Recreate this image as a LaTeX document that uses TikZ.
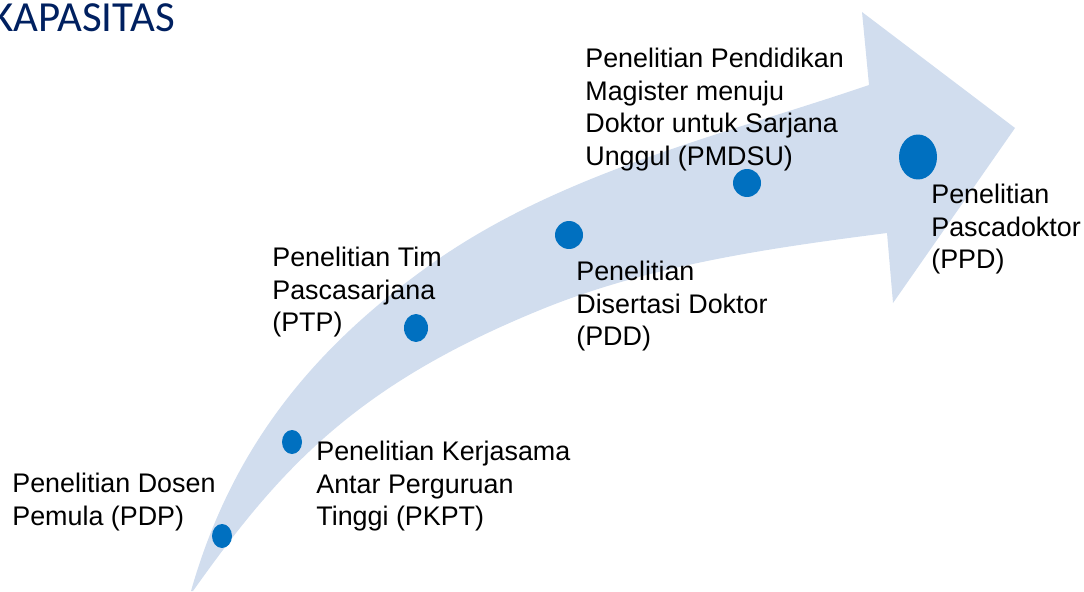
\documentclass[tikz,border=0pt]{standalone}
\usepackage{fontspec}
\setmainfont{Liberation Sans}
\newfontfamily\titlefont{Carlito}
\usetikzlibrary{shapes.geometric}
\definecolor{kapasitasnavy}{RGB}{0,32,96}
\definecolor{arrowblue}{RGB}{209,221,238}
\definecolor{dotblue}{RGB}{0,112,192}

\begin{document}
\begin{tikzpicture}[x=0.02cm,y=-0.02cm]

%
% Styles
%
\tikzstyle{milestone} = [ellipse,fill=dotblue,inner sep=0]
\tikzstyle{stage}     = [anchor=north west,inner sep=0,align=left,font=\fontsize{15.3}{18.5}\selectfont]
\tikzstyle{heading}   = [anchor=base east,inner sep=0,color=kapasitasnavy,font=\titlefont\fontsize{24.4}{28}\selectfont]

\useasboundingbox (0,0) rectangle (1084,591);

% curved arrow
\fill[arrowblue] (191,591)
  .. controls (232,447) and (314,346) .. (437,260)
  .. controls (564,172) and (722,135) .. (869,85)
  -- (862,12) -- (1015,128) -- (893,303) -- (887,233)
  .. controls (770,248) and (650,265) .. (540,310)
  .. controls (354,386) and (279,470) .. (193,591)
  -- cycle;

\node[heading] (title) at (175,32) {KAPASITAS};

\node[milestone,minimum width=0.40cm,minimum height=0.48cm] (pdp)   at (222,536) {};
\node[milestone,minimum width=0.40cm,minimum height=0.48cm] (pkpt)  at (292,442) {};
\node[milestone,minimum width=0.48cm,minimum height=0.56cm] (ptp)   at (416,328) {};
\node[milestone,minimum width=0.56cm,minimum height=0.56cm] (pdd)   at (569,235) {};
\node[milestone,minimum width=0.56cm,minimum height=0.56cm] (pmdsu) at (747,183) {};
\node[milestone,minimum width=0.76cm,minimum height=0.90cm] (ppd)   at (918,157) {};

\node[stage] (pdptext)   at ( 12,472.7) {Penelitian Dosen\\Pemula (PDP)};
\node[stage] (pkpttext)  at (316,440.7) {Penelitian Kerjasama\\Antar Perguruan\\Tinggi (PKPT)};
\node[stage] (ptptext)   at (272,246.7) {Penelitian Tim\\Pascasarjana\\(PTP)};
\node[stage] (pddtext)   at (576,260.7) {Penelitian\\Disertasi Doktor\\(PDD)};
\node[stage] (pmdsutext) at (585, 47.7) {Penelitian Pendidikan\\Magister menuju\\Doktor untuk Sarjana\\Unggul (PMDSU)};
\node[stage] (ppdtext)   at (931,183.7) {Penelitian\\Pascadoktor\\(PPD)};

\end{tikzpicture}
\end{document}
